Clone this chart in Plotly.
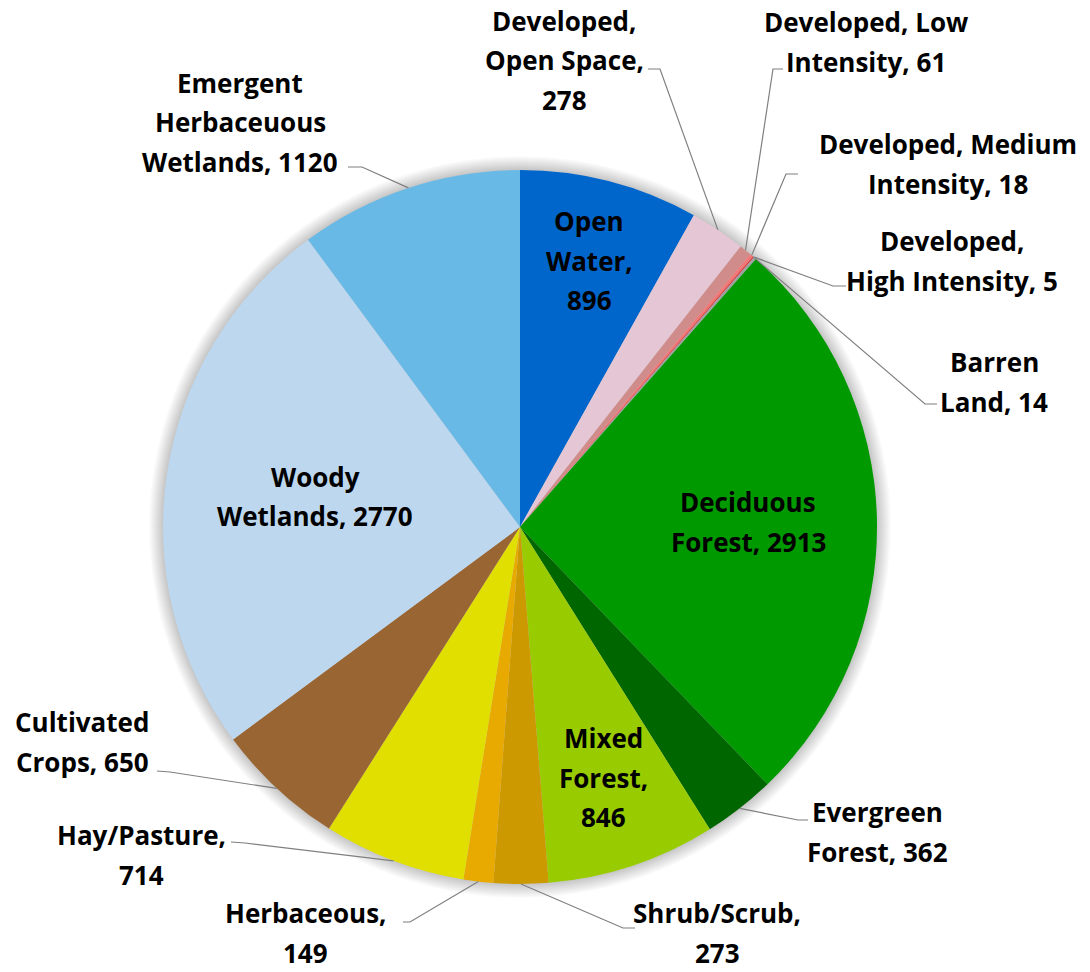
import math
import plotly.graph_objects as go

# ---------------- data ----------------
categories = [
    "Open Water", "Developed, Open Space", "Developed, Low Intensity",
    "Developed, Medium Intensity", "Developed, High Intensity", "Barren Land",
    "Deciduous Forest", "Evergreen Forest", "Mixed Forest", "Shrub/Scrub",
    "Herbaceous", "Hay/Pasture", "Cultivated Crops", "Woody Wetlands",
    "Emergent Herbaceuous Wetlands",
]
values = [896, 278, 61, 18, 5, 14, 2913, 362, 846, 273, 149, 714, 650, 2770, 1120]
label_text = [
    "Open<br>Water,<br>896",
    "Developed,<br>Open Space,<br>278",
    "Developed, Low<br>Intensity, 61",
    "Developed, Medium<br>Intensity, 18",
    "Developed,<br>High Intensity, 5",
    "Barren<br>Land, 14",
    "Deciduous<br>Forest, 2913",
    "Evergreen<br>Forest, 362",
    "Mixed<br>Forest,<br>846",
    "Shrub/Scrub,<br>273",
    "Herbaceous,<br>149",
    "Hay/Pasture,<br>714",
    "Cultivated<br>Crops, 650",
    "Woody<br>Wetlands, 2770",
    "Emergent<br>Herbaceuous<br>Wetlands, 1120",
]

# ---------------- style / layout ----------------
colors = ["#0066CC", "#E4C6D4", "#CF8C8A", "#F07878", "#E02020", "#A0A0A0",
          "#009900", "#006600", "#99CC00", "#CC9900", "#E8AA00", "#E1DF00",
          "#996633", "#BDD7EE", "#69B9E6"]

W, H = 1090, 972
CX, CY, R = 520, 527, 357
LINE_H = 39.5
FONT = dict(family="'Open Sans', Lato, sans-serif", size=26, color="#000000")

# inside labels: radius fraction
inside = {0: 0.77, 6: 0.64, 8: 0.74, 13: 0.58}
# outside labels: text centre (px) and leader elbow points (px)
outside = {
    1: dict(pos=(564, 60), path=[(648, 69), (660, 69)]),
    2: dict(pos=(866, 42), path=[(783, 69), (773, 69)]),
    3: dict(pos=(948, 164), path=[(798, 174), (786, 174)]),
    4: dict(pos=(952, 261), path=[(846, 286), (833, 286)]),
    5: dict(pos=(994, 382), path=[(937, 404), (925, 404)]),
    7: dict(pos=(877, 832), path=[(808, 820), (798, 820)]),
    9: dict(pos=(717, 933), path=[(635, 928), (623, 928)]),
    10: dict(pos=(305, 933), path=[(403, 922), (410, 922)]),
    11: dict(pos=(141, 855), path=[(231, 842), (245, 843)]),
    12: dict(pos=(82, 742), path=[(157, 771), (170, 772)]),
    14: dict(pos=(240, 122), path=[(348, 167), (362, 167)]),
}


def px(x):
    return x / W


def py(y):
    return 1 - y / H


total = sum(values)
mids = []
acc = 0
for v in values:
    mids.append((acc + v / 2) / total * 2 * math.pi)
    acc += v


def polar(theta, r):
    return CX + r * math.sin(theta), CY - r * math.cos(theta)


fig = go.Figure()
fig.add_trace(go.Pie(
    labels=categories, values=values, sort=False, direction="clockwise",
    rotation=0, textinfo="none", hoverinfo="label+value",
    marker=dict(colors=colors, line=dict(width=0)),
    domain=dict(x=[px(CX - R), px(CX + R)], y=[py(CY + R), py(CY - R)]),
    showlegend=False,
))

shapes = []
# soft shadow around the pie
for k in range(14, 0, -1):
    rr = R + k
    shapes.append(dict(type="circle", xref="paper", yref="paper",
                       x0=px(CX - rr), x1=px(CX + rr), y0=py(CY + rr), y1=py(CY - rr),
                       fillcolor="rgba(0,0,0,0.016)", line=dict(width=0), layer="below"))

annotations = []


def add_block(text, cx, cy):
    lines = text.split("<br>")
    n = len(lines)
    for j, ln in enumerate(lines):
        yy = cy + (j - (n - 1) / 2) * LINE_H
        annotations.append(dict(x=px(cx), y=py(yy), xref="paper", yref="paper",
                                text="<b>%s</b>" % ln, showarrow=False,
                                font=FONT, xanchor="center", yanchor="middle"))


for i, fr in inside.items():
    x, y = polar(mids[i], R * fr)
    add_block(label_text[i], x, y)

for i, d in outside.items():
    x, y = d["pos"]
    add_block(label_text[i], x, y)
    ex, ey = polar(mids[i], R)
    pts = d["path"] + [(ex, ey)]
    path = "M %f %f " % (px(pts[0][0]), py(pts[0][1])) + " ".join(
        "L %f %f" % (px(a), py(b)) for a, b in pts[1:])
    shapes.append(dict(type="path", xref="paper", yref="paper", path=path,
                       line=dict(color="#7F7F7F", width=1.2), layer="above"))

fig.update_layout(
    width=W, height=H, margin=dict(l=0, r=0, t=0, b=0),
    paper_bgcolor="white", plot_bgcolor="white",
    shapes=shapes, annotations=annotations,
)
fig.write_html("out.html", config={"displayModeBar": False},
               post_script="document.body.style.margin='0px';")
